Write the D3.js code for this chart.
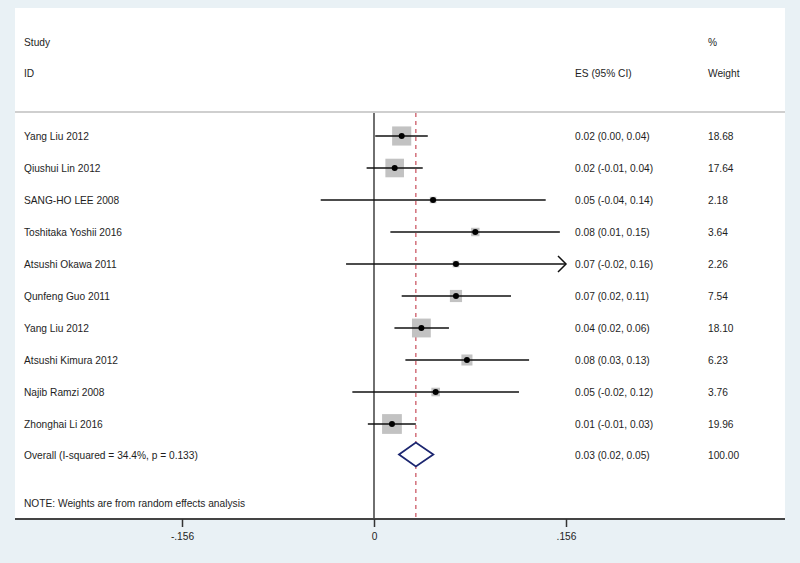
<!DOCTYPE html>
<html><head><meta charset="utf-8">
<script src="https://cdn.jsdelivr.net/npm/d3@7"></script>
<style>
html,body{margin:0;padding:0;background:#e9f1f5;}
svg{display:block;font-family:"Liberation Sans",Arial,sans-serif;}
</style></head>
<body>
<svg id="c" width="800" height="563"></svg>
<script>
const studies = ["Yang Liu 2012","Qiushui Lin 2012","SANG-HO LEE 2008","Toshitaka Yoshii 2016","Atsushi Okawa 2011","Qunfeng Guo 2011","Yang Liu 2012","Atsushi Kimura 2012","Najib Ramzi 2008","Zhonghai Li 2016"];
const es    = [0.0225, 0.0168, 0.048, 0.0823, 0.0666, 0.0666, 0.0385, 0.0755, 0.0501, 0.0146];
const lower = [0.001, -0.006, -0.0433, 0.0133, -0.0227, 0.0225, 0.0166, 0.0255, -0.0176, -0.005];
const upper = [0.0437, 0.0396, 0.1395, 0.151, 0.16, 0.1113, 0.0609, 0.126, 0.1178, 0.034];
const esText = ["0.02 (0.00, 0.04)","0.02 (-0.01, 0.04)","0.05 (-0.04, 0.14)","0.08 (0.01, 0.15)","0.07 (-0.02, 0.16)","0.07 (0.02, 0.11)","0.04 (0.02, 0.06)","0.08 (0.03, 0.13)","0.05 (-0.02, 0.12)","0.01 (-0.01, 0.03)"];
const weights = [18.68, 17.64, 2.18, 3.64, 2.26, 7.54, 18.10, 6.23, 3.76, 19.96];
const weightText = ["18.68","17.64","2.18","3.64","2.26","7.54","18.10","6.23","3.76","19.96"];
const overallLabel = "Overall  (I-squared = 34.4%, p = 0.133)";
const overall = {es: 0.034, lo: 0.0203, hi: 0.0482};
const overallText = "0.03 (0.02, 0.05)";
const overallWeight = "100.00";
const tickValues = [-0.156, 0, 0.156];
const tickLabels = ["-.156", "0", ".156"];
const noteText = "NOTE: Weights are from random effects analysis";

const svg = d3.select("#c");
const x = d3.scaleLinear().domain([-0.156, 0.156]).range([182, 566]);
const xMax = 0.156, xMin = -0.156;
const y = d3.scaleLinear().domain([0, 9]).range([136, 424]);
const boxSide = d3.scaleSqrt().domain([0, 20]).range([0, 19.8]);

const panelL = 15, panelR = 785, panelT = 8, axisY = 519, headY = 112;
const txt = "#1e1e1e";
const fs = 10.2;

svg.append("rect").attr("x", panelL).attr("y", panelT).attr("width", panelR - panelL).attr("height", axisY - panelT).attr("fill", "#ffffff");

// header
const hdr = svg.append("g").attr("font-size", fs).attr("fill", txt);
hdr.append("text").attr("x", 24).attr("y", 46).text("Study");
hdr.append("text").attr("x", 24).attr("y", 77).text("ID");
hdr.append("text").attr("x", 708).attr("y", 46).text("%");
hdr.append("text").attr("x", 708).attr("y", 77).text("Weight");
hdr.append("text").attr("x", 575).attr("y", 77).text("ES (95% CI)");
svg.append("line").attr("x1", panelL).attr("x2", panelR).attr("y1", headY).attr("y2", headY)
  .attr("stroke", "#cfcfcf").attr("stroke-width", 2);

// zero line
svg.append("line").attr("x1", x(0)).attr("x2", x(0)).attr("y1", headY + 1).attr("y2", axisY)
  .attr("stroke", "#222").attr("stroke-width", 1.3);

// dashed overall line
svg.append("line").attr("x1", x(overall.es)).attr("x2", x(overall.es)).attr("y1", headY + 1).attr("y2", axisY)
  .attr("stroke", "#cc5a66").attr("stroke-width", 1.3).attr("stroke-dasharray", "4,4");

// rows
const idx = d3.range(studies.length);
const rows = svg.append("g");
rows.selectAll("rect.box").data(idx).join("rect")
  .attr("x", i => x(es[i]) - boxSide(weights[i]) / 2)
  .attr("y", i => y(i) - boxSide(weights[i]) / 2)
  .attr("width", i => boxSide(weights[i]))
  .attr("height", i => boxSide(weights[i]))
  .attr("fill", "#c2c2c2");
rows.selectAll("line.ci").data(idx).join("line")
  .attr("x1", i => x(Math.max(lower[i], xMin)))
  .attr("x2", i => x(Math.min(upper[i], xMax)))
  .attr("y1", i => y(i)).attr("y2", i => y(i))
  .attr("stroke", "#111").attr("stroke-width", 1.5);
// arrows for clipped CIs
rows.selectAll("path.arrow").data(idx.filter(i => upper[i] > xMax)).join("path")
  .attr("d", i => { const ax = x(xMax), ay = y(i); return `M${ax - 8},${ay - 8}L${ax},${ay}L${ax - 8},${ay + 8}`; })
  .attr("fill", "none").attr("stroke", "#111").attr("stroke-width", 1.5);
rows.selectAll("circle.pt").data(idx).join("circle")
  .attr("cx", i => x(es[i])).attr("cy", i => y(i)).attr("r", 3)
  .attr("fill", "#000");

const labels = svg.append("g").attr("font-size", fs).attr("fill", txt);
labels.selectAll("text.s").data(idx).join("text").attr("x", 24).attr("y", i => y(i) + 4).text(i => studies[i]);
labels.selectAll("text.e").data(idx).join("text").attr("x", 575).attr("y", i => y(i) + 4).text(i => esText[i]);
labels.selectAll("text.w").data(idx).join("text").attr("x", 708).attr("y", i => y(i) + 4).text(i => weightText[i]);

// overall
const oy = y(10) - 1.5;
svg.append("path")
  .attr("d", `M${x(overall.lo)},${oy}L${x(overall.es)},${oy - 12}L${x(overall.hi)},${oy}L${x(overall.es)},${oy + 12}Z`)
  .attr("fill", "#fff").attr("stroke", "#1c2670").attr("stroke-width", 1.8);
labels.append("text").attr("x", 24).attr("y", oy + 4).text(overallLabel);
labels.append("text").attr("x", 575).attr("y", oy + 4).text(overallText);
labels.append("text").attr("x", 708).attr("y", oy + 4).text(overallWeight);
labels.append("text").attr("x", 24).attr("y", 507).text(noteText);

// axis
svg.append("line").attr("x1", panelL).attr("x2", panelR).attr("y1", axisY).attr("y2", axisY)
  .attr("stroke", "#444").attr("stroke-width", 2);
const axis = d3.axisBottom(x).tickValues(tickValues).tickSize(8).tickPadding(6)
  .tickFormat((d, i) => tickLabels[i]);
const ag = svg.append("g").attr("transform", `translate(0,${axisY})`).call(axis);
ag.select(".domain").remove();
ag.selectAll(".tick line").attr("stroke", "#333").attr("stroke-width", 1.5);
ag.selectAll(".tick text").attr("font-size", fs).attr("fill", txt).attr("font-family", "Liberation Sans, Arial, sans-serif");
</script>
</body></html>
